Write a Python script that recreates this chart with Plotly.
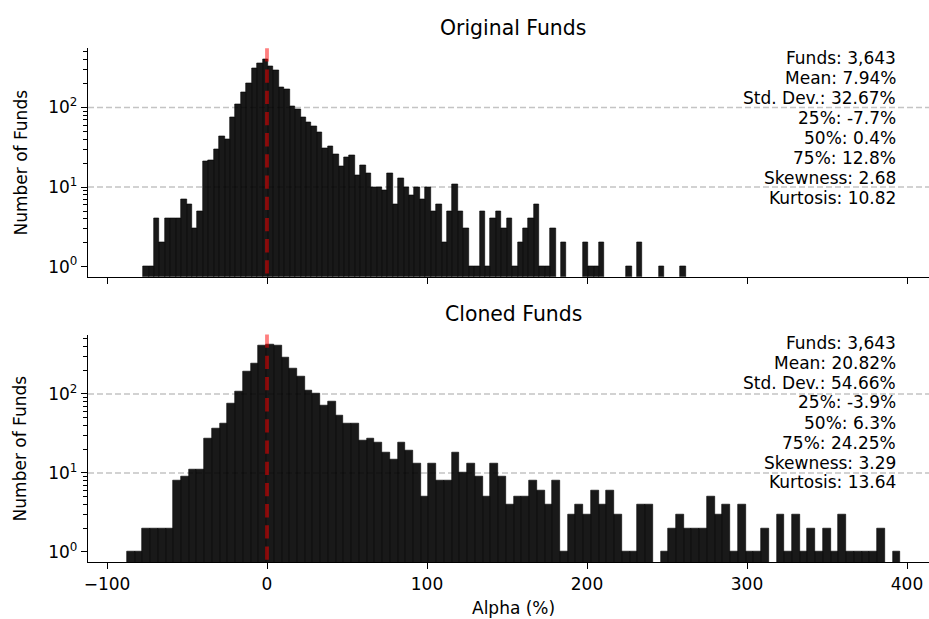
import plotly.graph_objects as go

# ---------------- data ----------------
panel_titles = ["Original Funds", "Cloned Funds"]

orig_range = [-77.4, 261.75]
orig_counts = [1, 1, 4, 2, 4, 4, 4, 7, 6, 3,
               5, 21, 22, 30, 43, 40, 76, 110, 156, 203,
               313, 362, 406, 332, 296, 181, 171, 104, 96, 76,
               66, 58, 49, 31, 33, 26, 18, 24, 25, 14,
               19, 15, 10, 10, 9, 15, 6, 13, 10, 8,
               10, 7, 10, 5, 6, 2, 5, 11, 5, 3,
               1, 1, 5, 1, 4, 5, 3, 4, 1, 2,
               3, 4, 6, 1, 1, 3, 0, 2, 0, 0,
               0, 2, 1, 1, 2, 0, 0, 0, 0, 1,
               0, 2, 0, 0, 0, 1, 0, 0, 0, 1]

clone_range = [-87.6, 395.8]
clone_counts = [1, 1, 2, 2, 2, 2, 8, 9, 11, 11,
                27, 37, 42, 75, 107, 191, 241, 407, 419, 407,
                287, 209, 165, 110, 101, 71, 80, 53, 42, 42,
                26, 27, 24, 18, 15, 24, 19, 13, 5, 13,
                8, 8, 18, 10, 13, 9, 5, 13, 9, 4,
                5, 5, 8, 6, 4, 8, 1, 3, 4, 3,
                6, 4, 6, 3, 1, 1, 4, 4, 0, 1,
                2, 3, 2, 2, 2, 5, 3, 4, 1, 4,
                1, 1, 2, 0, 3, 1, 3, 1, 2, 1,
                2, 1, 3, 1, 1, 1, 1, 2, 0, 1]

orig_stats = ["Funds: 3,643", "Mean: 7.94%", "Std. Dev.: 32.67%", "25%: -7.7%",
              "50%: 0.4%", "75%: 12.8%", "Skewness: 2.68", "Kurtosis: 10.82"]
clone_stats = ["Funds: 3,643", "Mean: 20.82%", "Std. Dev.: 54.66%", "25%: -3.9%",
               "50%: 6.3%", "75%: 24.25%", "Skewness: 3.29", "Kurtosis: 13.64"]

x_ticks = [-100, 0, 100, 200, 300, 400]
y_ticks = [1, 10, 100]
y_ticktext = ["10<sup>0</sup>", "10<sup>1</sup>", "10<sup>2</sup>"]
grid_values = [10, 100]
ref_line_x = 0

x_label = "Alpha (%)"
y_label = "Number of Funds"

# ---------------- figure ----------------
FONT = "DejaVu Sans"
W, H = 929, 619
L = 88
plot_w = W - L

def px_to_paper_y(py):
    return (H - py) / H

def px_to_paper_x(px):
    return (px - L) / plot_w

def hist_bars(rng, counts, xa, ya):
    n = len(counts)
    w = (rng[1] - rng[0]) / n
    centers = [rng[0] + w * (i + 0.5) for i in range(n)]
    yv = [c if c > 0 else None for c in counts]
    return go.Bar(x=centers, y=yv, width=w, xaxis=xa, yaxis=ya,
                  marker=dict(color="rgba(0,0,0,0.9)", line=dict(color="black", width=0.6)),
                  showlegend=False, hoverinfo="x+y")

fig = go.Figure()
fig.add_trace(hist_bars(orig_range, orig_counts, "x", "y"))
fig.add_trace(hist_bars(clone_range, clone_counts, "x2", "y2"))

xrange = [-111.875, 413.75]
minor_vals = [m * 10 ** e for e in range(0, 3) for m in range(2, 10) if m * 10 ** e < 560]

common_x = dict(range=xrange, tickmode="array", tickvals=x_ticks, ticks="outside",
                ticklen=6, tickwidth=1.3, tickcolor="black", showline=True,
                linecolor="black", linewidth=1.3, showgrid=False, zeroline=False,
                tickfont=dict(family=FONT, size=17, color="black"))
common_y = dict(type="log", tickmode="array", tickvals=y_ticks, ticktext=y_ticktext,
                ticks="outside", ticklen=6, tickwidth=1.3, tickcolor="black",
                showline=True, linecolor="black", linewidth=1.3, showgrid=False,
                zeroline=False, tickfont=dict(family=FONT, size=17, color="black"),
                minor=dict(tickmode="array", tickvals=minor_vals, ticks="outside",
                           ticklen=3.5, tickwidth=1, tickcolor="black", showgrid=False))

top_dom = [px_to_paper_y(276.7), px_to_paper_y(48.3)]
bot_dom = [px_to_paper_y(562.3), px_to_paper_y(334.5)]

fig.update_layout(
    width=W, height=H,
    margin=dict(l=L, r=0, t=0, b=0, pad=0),
    paper_bgcolor="white", plot_bgcolor="white",
    bargap=0, barmode="overlay",
    font=dict(family=FONT, size=17, color="black"),
    xaxis=dict(common_x, domain=[0, 1], anchor="y", showticklabels=False),
    xaxis2=dict(common_x, domain=[0, 1], anchor="y2", matches="x"),
    yaxis=dict(common_y, domain=top_dom, anchor="x", range=[-0.126, 2.744]),
    yaxis2=dict(common_y, domain=bot_dom, anchor="x2", range=[-0.131, 2.753]),
)

shapes = []
for xa, ya in (("x", "y"), ("x2", "y2")):
    for g in grid_values:
        shapes.append(dict(type="line", xref=xa + " domain", x0=0, x1=1, yref=ya, y0=g, y1=g,
                           layer="below", line=dict(color="#c4c4c4", width=1.5, dash="6px,3px")))
    shapes.append(dict(type="line", xref=xa, x0=ref_line_x, x1=ref_line_x,
                       yref=ya + " domain", y0=1, y1=0, layer="above",
                       line=dict(color="rgba(255,0,0,0.5)", width=3.8, dash="13.3px,7.9px")))
fig.update_layout(shapes=shapes)

annotations = []
title_centers = [28, 314]
for t, yc in zip(panel_titles, title_centers):
    annotations.append(dict(text=t, xref="paper", yref="paper", x=px_to_paper_x(513),
                            y=px_to_paper_y(yc), xanchor="center", yanchor="middle",
                            showarrow=False, font=dict(family=FONT, size=20.4, color="black")))

for stats, y0 in ((orig_stats, 58), (clone_stats, 342.5)):
    for i, s in enumerate(stats):
        annotations.append(dict(text=s, xref="paper", yref="paper", x=px_to_paper_x(898),
                                y=px_to_paper_y(y0 + 20 * i), xanchor="right", yanchor="middle",
                                showarrow=False, font=dict(family=FONT, size=17, color="black")))

for yc in (162.5, 448.4):
    annotations.append(dict(text=y_label, xref="paper", yref="paper", x=px_to_paper_x(20),
                            y=px_to_paper_y(yc), xanchor="center", yanchor="middle",
                            textangle=-90, showarrow=False,
                            font=dict(family=FONT, size=17, color="black")))

annotations.append(dict(text=x_label, xref="paper", yref="paper", x=px_to_paper_x(513),
                        y=px_to_paper_y(608), xanchor="center", yanchor="middle",
                        showarrow=False, font=dict(family=FONT, size=17, color="black")))
fig.update_layout(annotations=annotations)

fig.write_html("out.html")
